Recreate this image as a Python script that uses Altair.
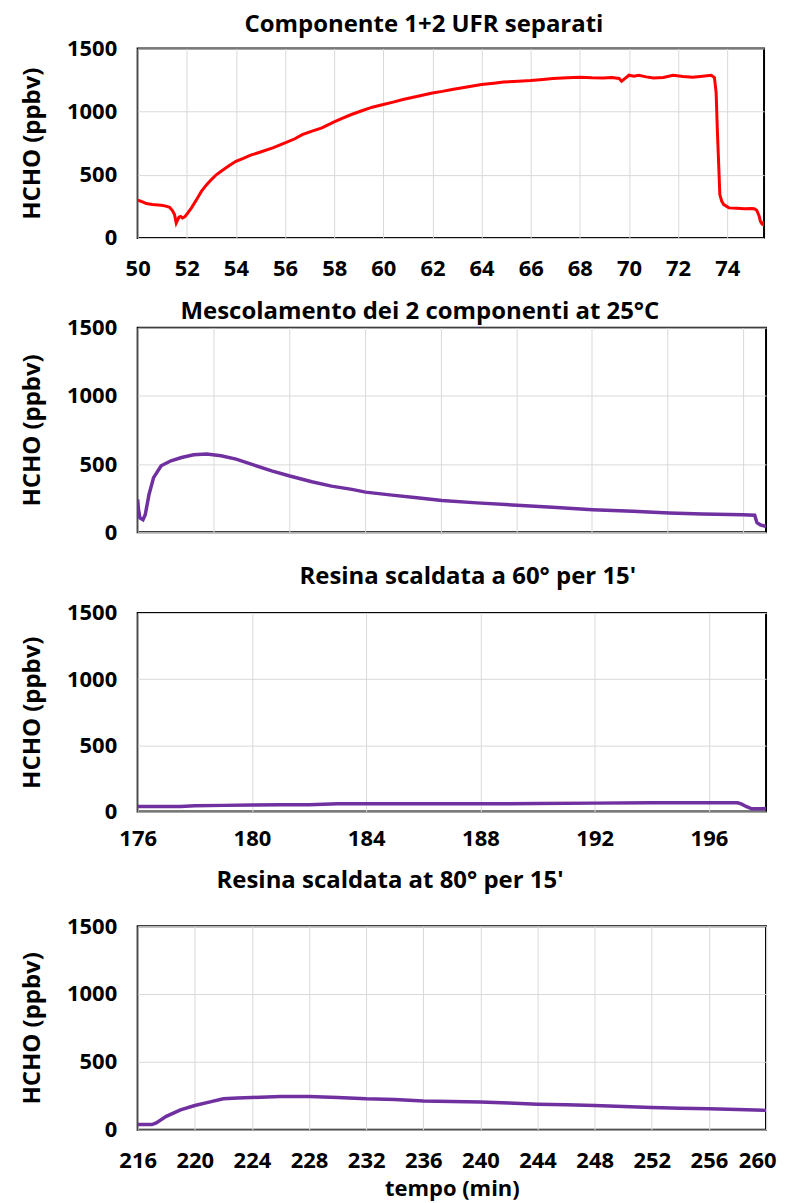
import altair as alt
import pandas as pd

# Panel 1: Componente 1+2 UFR separati (red)
t1 = [50.0, 50.2, 50.35, 50.6, 50.96, 51.15, 51.3, 51.42, 51.5, 51.57, 51.62, 51.68, 51.75, 51.82, 51.9, 51.94,
      52.05, 52.19, 52.4, 52.6, 52.8, 53.0, 53.2, 53.4, 53.7, 54.0, 54.3, 54.6, 55.0, 55.5, 56.0, 56.4, 56.7,
      57.1, 57.5, 58.0, 58.3, 58.7, 59.1, 59.55, 60.0, 60.4, 60.8, 61.4, 62.0, 62.4, 62.8, 63.4, 64.0, 64.5,
      64.9, 65.5, 66.0, 66.5, 66.9, 67.5, 68.0, 68.5, 68.96, 69.3, 69.6, 69.7, 70.0, 70.2, 70.4, 70.7, 71.0,
      71.4, 71.8, 72.2, 72.6, 73.0, 73.35, 73.48, 73.55, 73.6, 73.65, 73.7, 73.78, 73.86, 74.07, 74.4, 74.7,
      75.0, 75.1, 75.2, 75.3, 75.35, 75.42, 75.46, 75.5]
v1 = [300, 285, 272, 265, 259, 252, 243, 215, 185, 119, 140, 164, 170, 158, 165, 172,
      200, 238, 305, 370, 420, 462, 500, 528, 570, 607, 630, 655, 680, 713, 752, 785, 818,
      845, 871, 919, 945, 977, 1005, 1035, 1056, 1075, 1096, 1122, 1148, 1160, 1175, 1195, 1214, 1225,
      1235, 1240, 1246, 1255, 1262, 1268, 1272, 1268, 1267, 1270, 1262, 1240, 1288, 1280, 1288, 1275, 1267,
      1270, 1288, 1278, 1272, 1280, 1288, 1270, 1150, 850, 600, 343, 290, 264, 238, 235, 232,
      233, 232, 220, 175, 132, 110, 106, 132]

# Panel 2: Mescolamento dei 2 componenti at 25°C (purple, no x labels)
t2 = [140.0, 140.04, 140.12, 140.28, 140.4, 140.6, 140.84, 141.24, 141.76, 142.32, 142.96, 143.64, 144.4,
      145.2, 146.0, 147.08, 148.04, 149.2, 150.24, 151.32, 152.04, 153.44, 154.76, 156.08, 157.92, 160.04,
      161.92, 164.04, 166.16, 168.08, 169.84, 171.96, 172.6, 172.72, 172.9, 173.2]
v2 = [240, 170, 104, 91, 128, 277, 400, 487, 524, 548, 568, 573, 561,
      536, 499, 450, 412, 370, 338, 314, 294, 272, 252, 232, 215, 198,
      183, 165, 153, 141, 133, 128, 124, 70, 54, 42]

# Panel 3: Resina scaldata a 60° per 15' (purple)
t3 = [176.0, 177.0, 177.5, 178.0, 179.0, 180.0, 181.0, 182.0, 183.0, 184.0, 186.0, 188.0, 190.0, 192.0,
      194.0, 196.0, 197.0, 197.15, 197.3, 197.5, 197.8, 198.0]
v3 = [38, 38, 38, 43, 46, 48, 50, 50, 58, 58, 58, 58, 60, 63,
      65, 65, 65, 55, 38, 20, 20, 22]

# Panel 4: Resina scaldata at 80° per 15' (purple)
t4 = [216.0, 217.0, 217.3, 218.0, 219.0, 220.0, 221.0, 222.0, 223.0, 224.0, 226.0, 228.0, 230.0, 232.0,
      234.0, 236.0, 238.0, 240.0, 242.0, 244.0, 246.0, 248.0, 250.0, 252.0, 254.0, 256.0, 258.0, 260.0]
v4 = [37, 37, 49, 98, 146, 178, 203, 227, 233, 237, 244, 244, 237, 227,
      222, 212, 207, 203, 196, 188, 183, 178, 170, 163, 158, 154, 148, 142]

titles = ["Componente  1+2 UFR separati",
          "Mescolamento  dei 2 componenti at 25°C",
          "Resina  scaldata  a 60°  per 15'",
          "Resina scaldata  at 80°  per 15'"]

yticks = [0, 500, 1000, 1500]
FONT = "Open Sans"
LBL = 22


def panel(t, v, color, title, dx, offset, xdom, xticks, show_labels, w, h, sw=3.5, xtitle=None,
          lpad=21, tick_size=None):
    df = pd.DataFrame({"t": t, "v": v})
    last = xticks[-1]
    edge_test = f"datum.value >= {last} && {last} >= {xdom[1]}"
    axis_kw = dict(values=xticks, labels=show_labels, domain=False,
                   grid=True, gridColor="#d9d9d9", gridWidth=1, labelFlush=False,
                   format="d",
                   labelAlign={"condition": {"test": edge_test, "value": "right"}, "value": "center"},
                   labelOffset={"condition": {"test": edge_test, "value": 10}, "value": 0},
                   labelFont=FONT, labelFontSize=LBL, labelFontWeight="bold",
                   labelColor="black", labelPadding=lpad,
                   title=xtitle if xtitle else None,
                   titleFont=FONT, titleFontSize=22, titleFontWeight="bold",
                   titleColor="black", titlePadding=7)
    if tick_size:
        axis_kw.update(ticks=True, tickSize=tick_size, tickColor="transparent")
    else:
        axis_kw.update(ticks=False)
    xaxis = alt.Axis(**axis_kw)
    yaxis = alt.Axis(values=yticks, ticks=False, domain=False, grid=True,
                     gridColor="#d9d9d9", gridWidth=1, format="d", labelFlush=False,
                     labelFont=FONT, labelFontSize=LBL, labelFontWeight="bold",
                     labelColor="black", labelPadding=21,
                     title="HCHO  (ppbv)", titleFont=FONT, titleFontSize=24,
                     titleFontWeight="bold", titleColor="black", titlePadding=22)
    return alt.Chart(df).mark_line(color=color, strokeWidth=sw, clip=True).encode(
        x=alt.X("t:Q", scale=alt.Scale(domain=xdom, nice=False, zero=False), axis=xaxis),
        y=alt.Y("v:Q", scale=alt.Scale(domain=[0, 1500], nice=False), axis=yaxis),
    ).properties(
        width=w, height=h,
        title=alt.TitleParams(title, font=FONT, fontSize=24, fontWeight="bold",
                              color="black", anchor="middle", frame="group",
                              dx=dx, offset=offset),
    )


c1 = panel(t1, v1, "#ff0000", titles[0], -27, 0, [50, 75.5], list(range(50, 76, 2)), True, 628, 190, sw=3)
c2 = panel(t2, v2, "#7030a0", titles[1], -32, -7, [140, 173.2], list(range(140, 174, 4)), False, 630, 205,
           tick_size=12)
c3 = panel(t3, v3, "#7030a0", titles[2], 16, 13, [176, 198], list(range(176, 199, 4)), True, 630, 199,
           lpad=17)
c4 = panel(t4, v4, "#7030a0", titles[3], -62, 22, [216, 260], list(range(216, 261, 4)), True, 630, 204,
           xtitle="tempo (min)", lpad=21)

chart = alt.vconcat(c1, c2, c3, c4, spacing=18).configure_view(
    stroke="black", strokeWidth=2
).properties(background="white", padding={"left": 11, "top": 3, "right": 2, "bottom": 0})

chart.save("out.html", embed_options={"renderer": "svg", "actions": False})
